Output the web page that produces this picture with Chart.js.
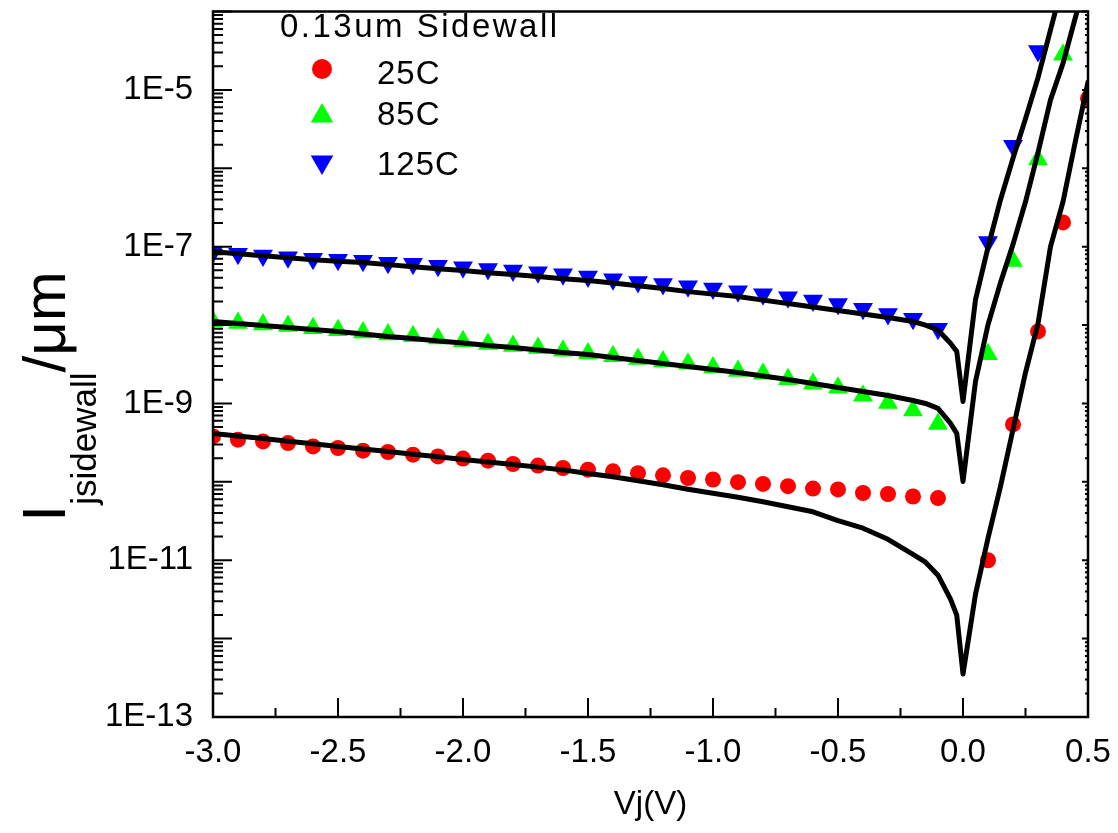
<!DOCTYPE html>
<html>
<head>
<meta charset="utf-8">
<title>Sidewall junction leakage</title>
<script src="https://cdn.jsdelivr.net/npm/chart.js@4.4.1/dist/chart.umd.min.js"></script>
<style>
  html, body { margin: 0; padding: 0; background: #fff; }
  #wrap { width: 1118px; height: 833px; }
</style>
</head>
<body>
<div id="wrap"><canvas id="chart"></canvas></div>
<script>
// measured points: reverse bias every 0.1 V, forward bias every 0.1 V
const markerV = [-3.0, -2.9, -2.8, -2.7, -2.6, -2.5, -2.4, -2.3, -2.2, -2.1,
                 -2.0, -1.9, -1.8, -1.7, -1.6, -1.5, -1.4, -1.3, -1.2, -1.1,
                 -1.0, -0.9, -0.8, -0.7, -0.6, -0.5, -0.4, -0.3, -0.2, -0.1,
                 0.1, 0.2, 0.3, 0.4, 0.5];

const meas25 = [3.8e-10, 3.45e-10, 3.28e-10, 3.12e-10, 2.83e-10, 2.7e-10, 2.5e-10, 2.4e-10, 2.22e-10, 2.11e-10,
                1.98e-10, 1.86e-10, 1.69e-10, 1.61e-10, 1.5e-10, 1.43e-10, 1.36e-10, 1.29e-10, 1.21e-10, 1.12e-10,
                1.07e-10, 9.9e-11, 9.4e-11, 8.8e-11, 8.2e-11, 8.0e-11, 7.2e-11, 7.0e-11, 6.5e-11, 6.2e-11,
                1.0e-11, 5.4e-10, 8.3e-9, 2.04e-7, 7.8e-6];

const meas85 = [1.11e-8, 1.065e-8, 1.02e-8, 9.7e-9, 9.1e-9, 8.6e-9, 8.05e-9, 7.6e-9, 7.2e-9, 6.75e-9,
                6.2e-9, 5.75e-9, 5.4e-9, 5.1e-9, 4.7e-9, 4.35e-9, 4.0e-9, 3.7e-9, 3.43e-9, 3.2e-9,
                2.87e-9, 2.6e-9, 2.4e-9, 2.03e-9, 1.78e-9, 1.58e-9, 1.25e-9, 1.01e-9, 8.15e-10, 5.45e-10,
                4.24e-9, 6.54e-8, 1.29e-6, 2.81e-5, null];

const meas125 = [8.5e-8, 8.1e-8, 7.7e-8, 7.35e-8, 7.0e-8, 6.8e-8, 6.6e-8, 6.25e-8, 6.05e-8, 5.7e-8,
                 5.45e-8, 5.2e-8, 4.95e-8, 4.7e-8, 4.45e-8, 4.15e-8, 3.85e-8, 3.55e-8, 3.35e-8, 3.13e-8,
                 2.92e-8, 2.7e-8, 2.48e-8, 2.27e-8, 2.05e-8, 1.86e-8, 1.61e-8, 1.38e-8, 1.2e-8, 8.96e-9,
                 1.15e-7, 1.94e-6, 3.14e-5, null, null];

// model curves
const modelV = [-3.0, -2.9, -2.8, -2.7, -2.6, -2.5, -2.4, -2.3, -2.2, -2.1,
                -2.0, -1.9, -1.8, -1.7, -1.6, -1.5, -1.4, -1.3, -1.2, -1.1,
                -1.0, -0.9, -0.8, -0.7, -0.6, -0.5, -0.4, -0.3, -0.2,
                -0.15, -0.1, -0.05, -0.025, 0.0,
                0.05, 0.1, 0.15, 0.2, 0.25, 0.3, 0.35, 0.4, 0.45, 0.5];

const model25 = [4.15e-10, 3.84e-10, 3.56e-10, 3.30e-10, 3.06e-10, 2.83e-10, 2.62e-10, 2.43e-10, 2.25e-10, 2.09e-10,
                 1.93e-10, 1.79e-10, 1.66e-10, 1.54e-10, 1.42e-10, 1.28e-10, 1.16e-10, 1.03e-10, 9.16e-11, 8.03e-11,
                 7.14e-11, 6.35e-11, 5.56e-11, 4.80e-11, 4.15e-11, 3.2e-11, 2.56e-11, 1.85e-11, 1.19e-11,
                 9.43e-12, 6.44e-12, 3.19e-12, 1.99e-12, 3.53e-13,
                 3.69e-12, 1.91e-11, 8.77e-11, 4.66e-10, 2.48e-9, 1.045e-8, 1.0e-7, 3.74e-7, 2.24e-6, 1.26e-5];

const model85 = [1.11e-8, 1.045e-8, 9.85e-9, 9.29e-9, 8.77e-9, 8.27e-9, 7.68e-9, 7.14e-9, 6.73e-9, 6.25e-9,
                 5.90e-9, 5.48e-9, 5.17e-9, 4.80e-9, 4.46e-9, 4.21e-9, 3.85e-9, 3.53e-9, 3.23e-9, 2.96e-9,
                 2.71e-9, 2.48e-9, 2.24e-9, 2.02e-9, 1.80e-9, 1.60e-9, 1.42e-9, 1.26e-9, 1.09e-9,
                 1.0e-9, 8.64e-10, 5.56e-10, 4.15e-10, 1.01e-10,
                 1.91e-9, 1.01e-8, 3.48e-8, 1.07e-7, 3.74e-7, 1.58e-6, 7.46e-6, 2.18e-5, 8.51e-5, 3.19e-4];

const model125 = [8.64e-8, 8.14e-8, 7.68e-8, 7.24e-8, 6.83e-8, 6.53e-8, 6.26e-8, 5.90e-8, 5.56e-8, 5.24e-8,
                  4.95e-8, 4.66e-8, 4.40e-8, 4.15e-8, 3.91e-8, 3.69e-8, 3.43e-8, 3.18e-8, 2.92e-8, 2.67e-8,
                  2.48e-8, 2.31e-8, 2.08e-8, 1.88e-8, 1.70e-8, 1.53e-8, 1.38e-8, 1.25e-8, 1.11e-8,
                  1.0e-8, 8.64e-9, 5.85e-9, 4.6e-9, 1.06e-9,
                  2.11e-8, 9.8e-8, 3.97e-7, 1.34e-6, 4.28e-6, 1.43e-5, 5.81e-5, 2.38e-4, 9.7e-4, 3.97e-3];

const seriesNames = ['25C', '85C', '125C'];
const legendTitle = '0.13um Sidewall';

// axis ticks
const xMajor = [-3.0, -2.5, -2.0, -1.5, -1.0, -0.5, 0.0, 0.5];
const xMinor = [-2.75, -2.25, -1.75, -1.25, -0.75, -0.25, 0.25];
const yDecades = [1e-13, 1e-12, 1e-11, 1e-10, 1e-9, 1e-8, 1e-7, 1e-6, 1e-5, 1e-4];
const yLabelled = [1e-13, 1e-11, 1e-9, 1e-7, 1e-5];
const yMinorFactors = [2, 3, 4, 5, 6, 7, 8, 9];

const FONT = "'Liberation Sans', Arial, sans-serif";

function pairs(xs, ys) {
  return xs.map((x, i) => ({ x: x, y: ys[i] }));
}

const markerStyles = [
  { color: '#ff0000', pointStyle: 'circle', rotation: 0, radius: 8, legendRadius: 10 },
  { color: '#00ff00', pointStyle: 'triangle', rotation: 0, radius: 11.5, legendRadius: 13 },
  { color: '#0000ff', pointStyle: 'triangle', rotation: 180, radius: 11.5, legendRadius: 13 }
];
const measured = [meas25, meas85, meas125];
const models = [model25, model85, model125];

const datasets = [];
models.forEach((m, i) => {
  datasets.push({
    label: seriesNames[i] + ' model',
    data: pairs(modelV, m),
    borderColor: '#000',
    borderWidth: 5,
    borderJoinStyle: 'round',
    borderCapStyle: 'round',
    pointRadius: 0,
    fill: false,
    tension: 0,
    clip: 0,
    order: 0
  });
});
measured.forEach((m, i) => {
  const s = markerStyles[i];
  datasets.push({
    label: seriesNames[i],
    data: pairs(markerV, m),
    showLine: false,
    pointStyle: s.pointStyle,
    pointRotation: s.rotation,
    pointRadius: s.radius,
    pointBorderWidth: 0,
    pointBackgroundColor: s.color,
    backgroundColor: s.color,
    borderColor: s.color,
    clip: 0,
    order: 1
  });
});

// frame with inward tick marks on left, right and bottom
const frameTicks = {
  id: 'frameTicks',
  afterDraw(chart) {
    const { ctx, chartArea: a, scales: { x, y } } = chart;
    ctx.save();
    ctx.strokeStyle = '#000';
    ctx.lineWidth = 2;
    ctx.beginPath();
    yDecades.forEach((d, k) => {
      const py = y.getPixelForValue(d);
      ctx.moveTo(a.left, py); ctx.lineTo(a.left + 19, py);
      ctx.moveTo(a.right, py); ctx.lineTo(a.right - 6, py);
      if (k === yDecades.length - 1) return;
      yMinorFactors.forEach(f => {
        const pm = y.getPixelForValue(f * d);
        ctx.moveTo(a.left, pm); ctx.lineTo(a.left + 10, pm);
        ctx.moveTo(a.right, pm); ctx.lineTo(a.right - 3, pm);
      });
    });
    xMajor.forEach(v => {
      const px = x.getPixelForValue(v);
      ctx.moveTo(px, a.bottom); ctx.lineTo(px, a.bottom - 19);
    });
    xMinor.forEach(v => {
      const px = x.getPixelForValue(v);
      ctx.moveTo(px, a.bottom); ctx.lineTo(px, a.bottom - 9);
    });
    ctx.stroke();
    ctx.lineWidth = 2.5;
    ctx.strokeRect(a.left, a.top, a.right - a.left, a.bottom - a.top);
    ctx.restore();
  }
};

// legend block inside the plot, top-left
const sideLegend = {
  id: 'sideLegend',
  afterDraw(chart) {
    const ctx = chart.ctx;
    ctx.save();
    ctx.fillStyle = '#000';
    ctx.font = '33px ' + FONT;
    ctx.textBaseline = 'alphabetic';
    ctx.textAlign = 'left';
    if ('letterSpacing' in ctx) ctx.letterSpacing = '2.5px';
    ctx.fillText(legendTitle, 280, 37);
    if ('letterSpacing' in ctx) ctx.letterSpacing = '1px';
    const rows = [{ my: 69, ty: 83.5 }, { my: 116, ty: 125 }, { my: 162, ty: 175 }];
    seriesNames.forEach((name, i) => {
      const s = markerStyles[i];
      ctx.fillStyle = s.color;
      Chart.helpers.drawPoint(ctx, {
        pointStyle: s.pointStyle, rotation: s.rotation, radius: s.legendRadius, borderWidth: 0
      }, 322, rows[i].my);
      ctx.fillStyle = '#000';
      ctx.fillText(name, 377, rows[i].ty);
    });
    ctx.restore();
  }
};

// rotated y title with subscript
const yTitle = {
  id: 'yTitle',
  afterDraw(chart) {
    const ctx = chart.ctx;
    ctx.save();
    ctx.fillStyle = '#000';
    ctx.translate(65, 522);
    ctx.rotate(-Math.PI / 2);
    ctx.textBaseline = 'alphabetic';
    ctx.textAlign = 'left';
    ctx.font = '62px ' + FONT;
    ctx.fillText('I', 0, 0);
    let pos = ctx.measureText('I').width;
    ctx.font = '35px ' + FONT;
    ctx.fillText('jsidewall', pos, 31);
    pos += ctx.measureText('jsidewall').width;
    ctx.font = '60px ' + FONT;
    ctx.fillText('/\u03bcm', pos, 0);
    ctx.restore();
  }
};

new Chart(document.getElementById('chart'), {
  type: 'line',
  data: { datasets: datasets },
  options: {
    responsive: true,
    maintainAspectRatio: false,
    animation: false,
    devicePixelRatio: 1,
    layout: { padding: { top: 10, right: 30, left: 0, bottom: 0 } },
    plugins: {
      legend: { display: false },
      tooltip: { enabled: false }
    },
    scales: {
      x: {
        type: 'linear',
        min: -3.0,
        max: 0.5,
        grid: { display: false, drawTicks: false },
        border: { display: false },
        afterBuildTicks: scale => { scale.ticks = xMajor.map(v => ({ value: v })); },
        afterFit: scale => {
          scale.height = 116;
          scale.paddingLeft = 0;
          scale.paddingRight = 0;
        },
        ticks: {
          autoSkip: false,
          maxRotation: 0,
          padding: 16,
          color: '#000',
          font: { family: FONT, size: 33 },
          callback: v => Number(v).toFixed(1)
        },
        title: {
          display: true,
          text: 'Vj(V)',
          color: '#000',
          font: { family: FONT, size: 33 },
          padding: { top: 4, bottom: 8 }
        }
      },
      y: {
        type: 'logarithmic',
        min: 1e-13,
        max: 1e-4,
        grid: { display: false, drawTicks: false },
        border: { display: false },
        afterBuildTicks: scale => { scale.ticks = yLabelled.map(v => ({ value: v })); },
        afterFit: scale => {
          scale.width = 213;
          scale.paddingTop = 0;
          scale.paddingBottom = 0;
        },
        ticks: {
          autoSkip: false,
          padding: 20,
          color: '#000',
          font: { family: FONT, size: 33 },
          callback: v => '1E' + Math.round(Math.log10(v))
        }
      }
    }
  },
  plugins: [frameTicks, sideLegend, yTitle]
});
</script>
</body>
</html>
